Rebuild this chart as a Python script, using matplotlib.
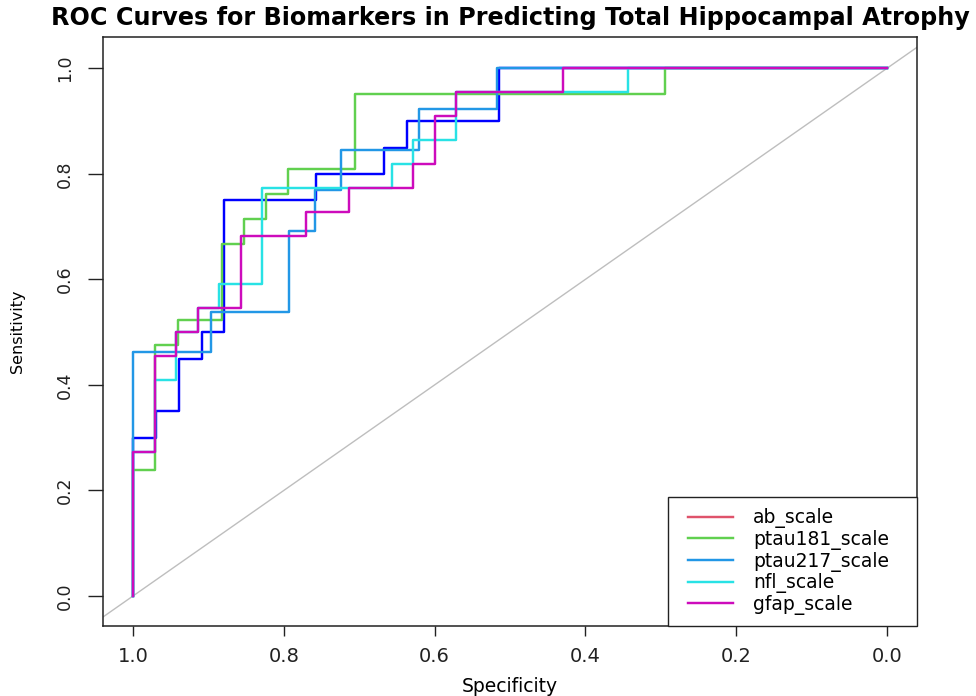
import matplotlib
matplotlib.use("Agg")
import matplotlib.pyplot as plt
from matplotlib.lines import Line2D
from matplotlib.legend_handler import HandlerLine2D

# ROC corner points (specificity, sensitivity)
ab_spec = [1.0, 0.970, 0.939, 0.909, 0.879, 0.758, 0.667, 0.636, 0.515, 0.0]
ab_sens = [0.0, 0.30, 0.35, 0.45, 0.50, 0.75, 0.80, 0.85, 0.90, 1.0]

ptau181_spec = [1.0, 0.971, 0.941, 0.882, 0.853, 0.824, 0.794, 0.706, 0.294, 0.0]
ptau181_sens = [0.0, 0.238, 0.476, 0.524, 0.667, 0.714, 0.762, 0.810, 0.952, 1.0]

ptau217_spec = [1.0, 0.897, 0.793, 0.759, 0.724, 0.621, 0.517, 0.0]
ptau217_sens = [0.0, 0.462, 0.538, 0.692, 0.769, 0.846, 0.923, 1.0]

nfl_spec = [1.0, 0.971, 0.943, 0.914, 0.886, 0.829, 0.657, 0.629, 0.571, 0.343, 0.0]
nfl_sens = [0.0, 0.273, 0.409, 0.500, 0.545, 0.591, 0.773, 0.818, 0.864, 0.955, 1.0]

gfap_spec = [1.0, 0.971, 0.943, 0.914, 0.857, 0.771, 0.714, 0.629, 0.600, 0.571, 0.429, 0.0]
gfap_sens = [0.0, 0.273, 0.455, 0.500, 0.545, 0.682, 0.727, 0.773, 0.818, 0.909, 0.955, 1.0]

labels = ["ab_scale", "ptau181_scale", "ptau217_scale", "nfl_scale", "gfap_scale"]
legend_colors = ["#DF536B", "#61D04F", "#2297E6", "#28E2E5", "#CD0BBC"]
x_ticks = [1.0, 0.8, 0.6, 0.4, 0.2, 0.0]
y_ticks = [0.0, 0.2, 0.4, 0.6, 0.8, 1.0]

curves = [
    (ab_spec, ab_sens, "#0000FF"),          # drawn in blue, legend says red
    (ptau181_spec, ptau181_sens, "#61D04F"),
    (ptau217_spec, ptau217_sens, "#2297E6"),
    (nfl_spec, nfl_sens, "#28E2E5"),
    (gfap_spec, gfap_sens, "#CD0BBC"),
]

fig = plt.figure(figsize=(9.76, 6.96), dpi=100)
ax = fig.add_axes([0.1055, 0.1006, 0.834, 0.8458])

ax.axline((1.0, 0.0), (0.0, 1.0), color="#BEBEBE", lw=1.0, zorder=1)
for xs, ys, col in curves:
    ax.plot(xs, ys, drawstyle="steps-pre", color=col, lw=1.75, zorder=2)

ax.set_xlim(1.04, -0.04)
ax.set_ylim(-0.057, 1.059)
ax.set_xticks(x_ticks)
ax.set_xticklabels([f"{v:.1f}" for v in x_ticks])
ax.set_yticks(y_ticks)
ax.set_yticklabels([f"{v:.1f}" for v in y_ticks], rotation=90, va="center")

for sp in ax.spines.values():
    sp.set_linewidth(1.1)
    sp.set_color("#222222")
ax.tick_params(axis="x", length=7.2, width=1.0, pad=8, labelsize=14, colors="#222222")
ax.tick_params(axis="y", length=10.8, width=1.0, pad=10, labelsize=12.5, colors="#222222")

ax.set_xlabel("Specificity", fontsize=13.5)
ax.set_ylabel("Sensitivity", fontsize=11.5)
ax.xaxis.set_label_coords(0.5, -0.102)
ax.xaxis.label.set_va("center")
ax.yaxis.set_label_coords(-0.1044, 0.5)
ax.yaxis.label.set_va("center")

fig.text(0.5225, 0.964, "ROC Curves for Biomarkers in Predicting Total Hippocampal Atrophy",
         ha="center", va="baseline", fontsize=17.2, fontweight="bold")

handles = [Line2D([], [], color=c, lw=1.75) for c in legend_colors]
leg = ax.legend(handles, labels, loc="lower left", bbox_to_anchor=(0.694, 0.0, 0.306, 0.2225),
                mode="expand", borderaxespad=0, fontsize=13.5, handlelength=2.88,
                handletextpad=1.07, labelspacing=0.09, borderpad=0.59,
                fancybox=False, framealpha=1,
                handler_map={Line2D: HandlerLine2D(xpad=0.48)})
leg.get_frame().set_edgecolor("#222222")
leg.get_frame().set_linewidth(1.0)

fig.savefig("out.png", dpi=100)
